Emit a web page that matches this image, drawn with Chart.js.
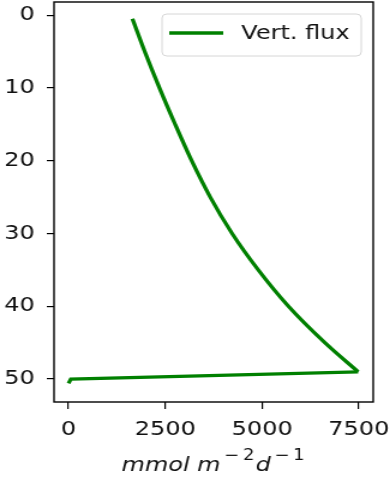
<!DOCTYPE html>
<html>
<head>
<meta charset="utf-8">
<script src="https://cdn.jsdelivr.net/npm/chart.js@4.4.0/dist/chart.umd.min.js"></script>
<style>
  html, body { margin: 0; padding: 0; background: #fff; overflow: hidden; }
  #wrap { width: 391px; height: 479px; }
  /* the reference is drawn a little wider than tall, stretch the canvas the same way */
  #chart { transform: scaleX(1.2); transform-origin: 0 0; }
</style>
</head>
<body>
<div id="wrap"><canvas id="chart" width="326" height="479"></canvas></div>
<script>
// depth and vertical flux
const depth = [0.5, 5, 10, 15, 20, 25, 30, 35, 40, 45, 49, 50.0, 50.6]
const flux = [1650, 1968, 2348, 2753, 3180, 3660, 4225, 4900, 5680, 6620, 7480, 60, 0]
const xTicks = [0, 2500, 5000, 7500]
const yTicks = [0, 10, 20, 30, 40, 50]
const seriesLabel = 'Vert. flux'
const xLabel = ['mmol m', '\u22122', 'd', '\u22121'] // base, sup, base, sup

const FONT = "'DejaVu Sans', sans-serif"
const GREEN = '#008000'

const pts = depth.map((d, i) => ({ x: flux[i], y: d }))
const corner = 10 // index of the deepest point of the smooth part

// box round the axes, in-axes legend and the x label with superscripts
const framePlugin = {
  id: 'frame',
  afterDraw(chart) {
    const { ctx, chartArea: a } = chart
    ctx.save()
    ctx.strokeStyle = '#000'
    ctx.lineWidth = 1.4
    ctx.strokeRect(a.left, a.top, a.right - a.left, a.bottom - a.top)

    // legend
    ctx.beginPath()
    ctx.roundRect(135, 14, 166, 42, 4)
    ctx.fillStyle = 'rgba(255,255,255,0.8)'
    ctx.fill()
    ctx.strokeStyle = '#d6d6d6'
    ctx.lineWidth = 1
    ctx.stroke()
    ctx.beginPath()
    ctx.moveTo(141, 33)
    ctx.lineTo(186, 33)
    ctx.strokeStyle = GREEN
    ctx.lineWidth = 3.5
    ctx.stroke()
    ctx.fillStyle = '#111'
    ctx.font = '20px ' + FONT
    ctx.textBaseline = 'middle'
    ctx.fillText(chart.data.datasets[0].label, 201, 34)

    // x axis label, superscripts drawn smaller and raised
    const big = 'italic 20px ' + FONT, small = '15px ' + FONT
    ctx.textBaseline = 'alphabetic'
    const base = 471
    const pieces = []
    xLabel.forEach((t, i) => {
      if (i % 2) {
        pieces.push({ t: t[0], f: small, dy: -11, gap: 3 })
        pieces.push({ t: t.slice(1), f: small, dy: -11, gap: 1 })
      } else {
        pieces.push({ t, f: big, dy: 0, gap: 3 })
      }
    })
    let total = 0
    pieces.forEach(p => { ctx.font = p.f; p.w = ctx.measureText(p.t).width; total += p.w + p.gap })
    let x = (a.left + a.right) / 2 - total / 2
    pieces.forEach(p => {
      ctx.font = p.f
      ctx.fillText(p.t, x, base + p.dy)
      x += p.w + p.gap
    })
    ctx.restore()
  }
}

const axisGrid = { drawOnChartArea: false, drawTicks: true, color: '#000', lineWidth: 1.2 }

new Chart(document.getElementById('chart').getContext('2d'), {
  type: 'scatter',
  data: {
    datasets: [{
      label: seriesLabel,
      data: pts.slice(0, corner + 1),
      showLine: true,
      borderColor: GREEN,
      borderWidth: 3.3,
      pointRadius: 0,
      cubicInterpolationMode: 'monotone'
    }, {
      label: seriesLabel,
      data: pts.slice(corner),
      showLine: true,
      borderColor: GREEN,
      borderWidth: 3.3,
      borderJoinStyle: 'miter',
      pointRadius: 0,
      tension: 0
    }]
  },
  options: {
    responsive: false,
    animation: false,
    layout: { autoPadding: false, padding: { top: 2, right: 15, left: 0, bottom: 0 } },
    plugins: {
      legend: { display: false },
      tooltip: { enabled: false }
    },
    scales: {
      x: {
        type: 'linear',
        min: -375,
        max: 7870,
        afterBuildTicks: s => { s.ticks = xTicks.map(v => ({ value: v })) },
        afterFit: s => { s.height = 77; s.paddingLeft = 0; s.paddingRight = 0 },
        border: { display: false },
        grid: { ...axisGrid, tickLength: 7 },
        ticks: { color: '#111', font: { family: FONT, size: 20 }, padding: 9, maxRotation: 0, callback: v => String(v) }
      },
      y: {
        type: 'linear',
        reverse: true,
        min: -1.8,
        max: 53.15,
        afterBuildTicks: s => { s.ticks = yTicks.map(v => ({ value: v })) },
        afterFit: s => { s.width = 45; s.paddingTop = 0; s.paddingBottom = 0 },
        border: { display: false },
        grid: { ...axisGrid, tickLength: 6 },
        ticks: { color: '#111', font: { family: FONT, size: 20 }, padding: 10, callback: v => String(v) }
      }
    }
  },
  plugins: [framePlugin]
})
</script>
</body>
</html>
